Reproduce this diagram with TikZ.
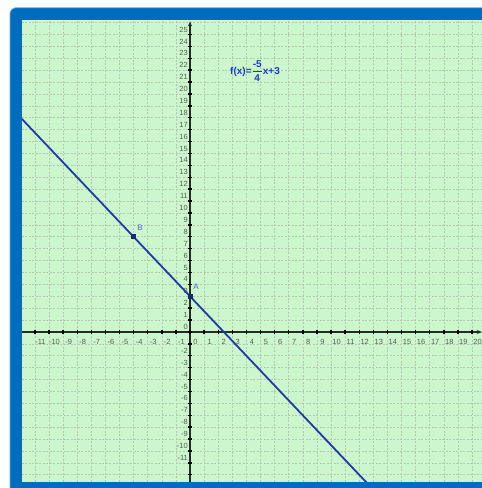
\documentclass[tikz,border=0pt]{standalone}
\usepackage{fontspec}
\setmainfont{Liberation Sans}
\usepackage{amsmath}
\usetikzlibrary{arrows.meta}
\definecolor{frameblue}{RGB}{0,108,190}
\definecolor{frameedge}{RGB}{110,170,225}
\definecolor{bggreen}{RGB}{204,246,204}
\definecolor{gridc}{RGB}{178,202,178}
\definecolor{lineblue}{RGB}{32,58,168}
\definecolor{titleblue}{RGB}{30,60,200}
\definecolor{ptlab}{RGB}{80,100,210}
\definecolor{labc}{RGB}{85,95,85}
\definecolor{axisc}{RGB}{35,45,35}
\tikzset{
  gridline/.style={gridc, line width=0.6pt, dash pattern=on 2pt off 1.5pt},
  axisline/.style={axisc, line width=1.3pt, -{Stealth[length=5pt,width=4pt]}},
  tickmark/.style={black, line width=1.4pt},
  xlab/.style={labc, font=\fontsize{7.5}{8}\selectfont, inner sep=0pt},
  ylab/.style={labc, font=\fontsize{7.5}{8}\selectfont, inner sep=0pt, anchor=east},
  fline/.style={lineblue, line width=1.8pt},
  ptmark/.style={fill=lineblue!70!black, minimum size=5pt, inner sep=0pt, draw=none},
  ptname/.style={ptlab, font=\fontsize{8}{9}\selectfont, inner sep=0pt},
  title/.style={titleblue, font=\fontsize{10}{12}\selectfont\bfseries, inner sep=0pt, anchor=west}
}
\begin{document}
\begin{tikzpicture}[x=1pt,y=1pt]
\useasboundingbox (0,0) rectangle (482,488);
\fill[white] (0,0) rectangle (482,488);
\begin{scope}
  \clip (0,0) rectangle (482,488);
  \fill[frameblue, rounded corners=6pt] (10,-20) rectangle (500,480);
  \draw[frameedge, line width=0.7pt, rounded corners=6pt] (10,-20) rectangle (500,480.3);
\end{scope}
\fill[bggreen] (22,6) rectangle (482,468);
\begin{scope}[shift={(190,156)}, x=14.1pt, y=11.9pt]
  \clip (-11.915,-12.605) rectangle (20.709,26.218);
  % grid
  \foreach \i in {-11,...,20} \draw[gridline] (\i,-12.605) -- (\i,26.218);
  \foreach \j in {-12,...,26} \draw[gridline] (-11.915,\j) -- (20.709,\j);
  % axes
  \coordinate (xaxL) at (-11.915,0);
  \coordinate (xaxR) at (20.70,0);
  \coordinate (yaxB) at (0,-12.605);
  \coordinate (yaxT) at (0,26.1);
  \draw[axisline] (xaxL) -- (xaxR);
  \draw[axisline] (yaxB) -- (yaxT);
  % ticks
  \foreach \i in {-11,...,20} \draw[tickmark] (\i,0) ++(0,-2pt) -- ++(0,4pt);
  \foreach \j in {-12,...,25} \draw[tickmark] (0,\j) ++(-2pt,0) -- ++(4pt,0);
  % labels
  \foreach \i [count=\k] in {-11,...,20}
    \node[xlab] (xl\k) at ([xshift=5.5pt,yshift=-9.5pt]\i,0) {\i};
  \foreach \j [count=\k] in {-11,-10,...,-2,0,1,...,25}
    \node[ylab] (yl\k) at ([xshift=-2pt,yshift=5pt]0,\j) {\j};
  % function line
  \coordinate (fL) at (-12,18);
  \coordinate (fR) at (13,-13.25);
  \draw[fline] (fL) -- (fR);
  % points
  \node[ptmark] (A) at (0,3) {};
  \node[ptmark] (B) at (-4,8) {};
  \node[ptname] (Alab) at ([xshift=6pt,yshift=9.5pt]A.center) {A};
  \node[ptname] (Blab) at ([xshift=6.5pt,yshift=9.5pt]B.center) {B};
\end{scope}
\node[title] (ftitle) at (230,417) {f(x)=$\genfrac{}{}{0.8pt}{0}{\text{-5}}{\text{4}}$x+3};
\end{tikzpicture}
\end{document}
